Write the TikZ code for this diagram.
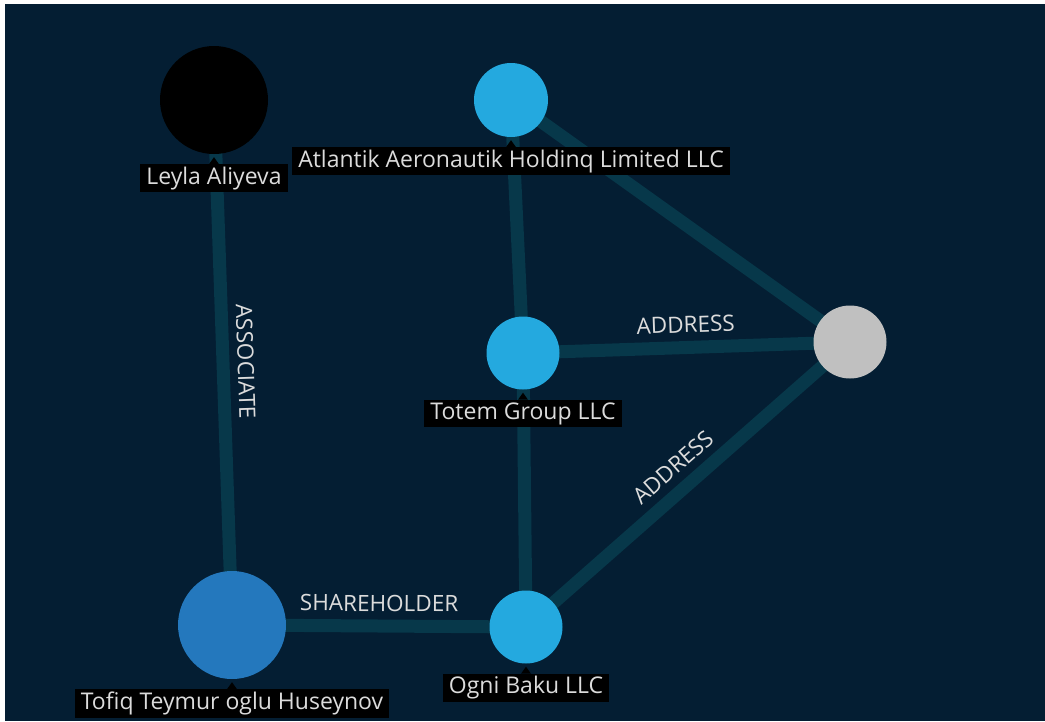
\documentclass[tikz,border=0pt]{standalone}
\usepackage{fontspec}
\setmainfont{Open Sans}
\usepackage{tikz}
\usetikzlibrary{positioning,backgrounds}
\definecolor{night}{HTML}{041E33}
\definecolor{wire}{HTML}{07384A}
\definecolor{sky}{HTML}{24A9DF}
\definecolor{steel}{HTML}{2478BD}
\definecolor{ash}{HTML}{C0C0C0}
\definecolor{chalk}{HTML}{DCDCDC}
\tikzstyle{entity}=[circle,minimum size=73pt,inner sep=0pt]
\tikzstyle{tag}=[fill=black,text=chalk,inner xsep=6pt,inner ysep=2.5pt,font=\fontsize{23}{27}\selectfont]
\tikzstyle{link}=[draw=wire,line width=13pt]
\tikzstyle{rel}=[midway,sloped,above=8pt,text=chalk,inner sep=0pt,font=\fontsize{22.5}{27}\selectfont]

\begin{document}
\begin{tikzpicture}[x=1pt,y=-1pt]
    \useasboundingbox (0,0) rectangle (1045,721);
    \foreach \pos/\name/\col/\size in {{(214,100)/leyla/black/108}, {(511,100)/atlantik/sky/74}, {(523,353)/totem/sky/73}, {(850,342)/addr/ash/73}, {(526,627)/ogni/sky/73}, {(232,625)/tofiq/steel/108}}
        \node[entity,fill=\col,minimum size=\size pt] (\name) at \pos {};
    \foreach \name/\text in {leyla/Leyla Aliyeva, atlantik/Atlantik Aeronautik Holdinq Limited LLC, totem/Totem Group LLC, ogni/Ogni Baku LLC, tofiq/Tofiq Teymur oglu Huseynov}
    {
        \node[tag,below=10pt of \name] (\name-tag) {\text};
        \fill[black] ([xshift=-5pt]\name-tag.north) -- ([yshift=7pt]\name-tag.north) -- ([xshift=5pt]\name-tag.north) -- cycle;
    }
    \begin{scope}[on background layer]
        \fill[white] (0,0) rectangle (1045,721);
        \fill[night] (5,4) rectangle (1045,721);
        \foreach \source/\dest in {atlantik/totem, atlantik/addr, totem/ogni}
            \path[link] (\source.center) -- (\dest.center);
        \foreach \source/\dest/\kind in {leyla/tofiq/ASSOCIATE, totem/addr/ADDRESS, ogni/addr/ADDRESS, tofiq/ogni/SHAREHOLDER}
            \path[link] (\source.center) -- node[rel] {\kind} (\dest.center);
    \end{scope}
\end{tikzpicture}
\end{document}
